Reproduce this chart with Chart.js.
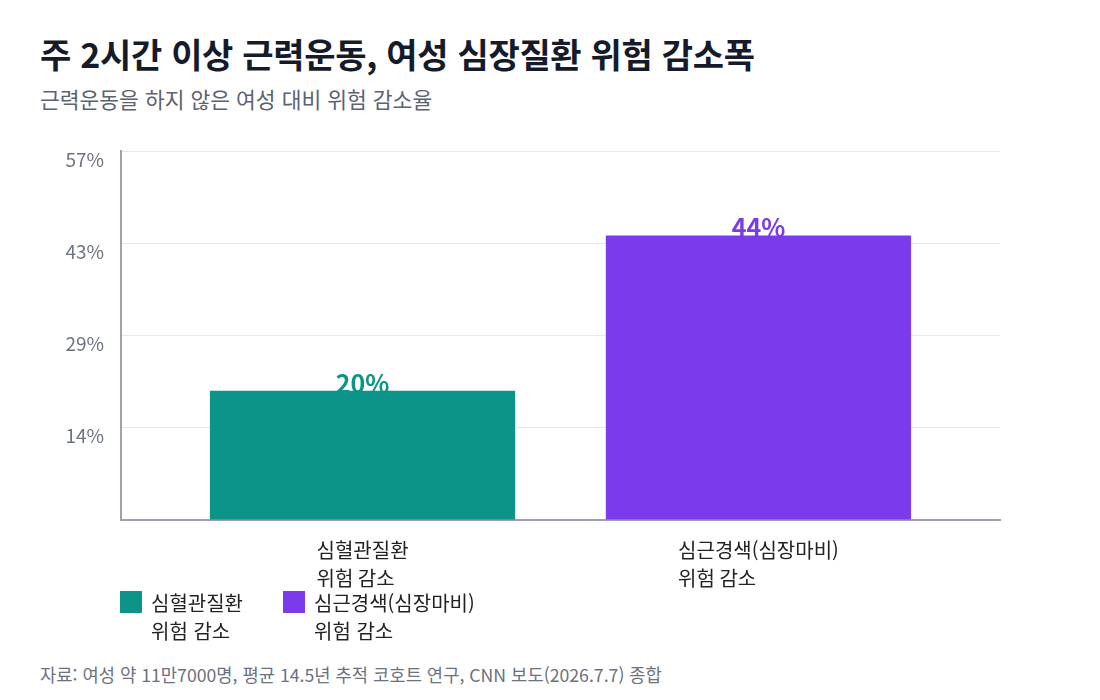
<!DOCTYPE html>
<html lang="ko">
<head>
<meta charset="utf-8">
<script src="https://cdn.jsdelivr.net/npm/chart.js@4"></script>
<style>
  html, body { margin: 0; padding: 0; background: #fff; }
  body { width: 1100px; height: 700px; position: relative; overflow: hidden;
         font-family: "Noto Sans CJK KR", "Noto Sans", sans-serif; }
  #title { position: absolute; left: 40px; top: 29px; font-size: 34px; font-weight: 700; color: #161b2b; letter-spacing: -0.3px; }
  #subtitle { position: absolute; left: 40px; top: 83px; font-size: 21.5px; color: #5b6271; }
  #wrap { position: absolute; left: 0; top: 123px; width: 1100px; height: 477px; }
  #legend { position: absolute; left: 120px; top: 589px; display: flex; gap: 40px; }
  .item { display: flex; align-items: flex-start; }
  .box { width: 22px; height: 22px; margin-top: 2px; margin-right: 9px; }
  .txt { font-size: 20px; line-height: 28px; color: #222; }
  #footer { position: absolute; left: 40px; top: 661px; font-size: 17.7px; color: #6b7280; }
</style>
</head>
<body>
<div id="title">주 2시간 이상 근력운동, 여성 심장질환 위험 감소폭</div>
<div id="subtitle">근력운동을 하지 않은 여성 대비 위험 감소율</div>
<div id="wrap"><canvas id="chart"></canvas></div>
<div id="legend"></div>
<div id="footer">자료: 여성 약 11만7000명, 평균 14.5년 추적 코호트 연구, CNN 보도(2026.7.7) 종합</div>
<script>
/* global Chart */

const categories = [
    ['심혈관질환', '위험 감소'],
    ['심근경색(심장마비)', '위험 감소']
];
const reductions = [20, 44];
const barColors = ['#0d9488', '#7c3aed'];
const axisMax = 57;
const axisStep = 14.25;

const fontFamily = '"Noto Sans CJK KR", "Noto Sans", sans-serif';

// multi-line category labels, left aligned, block centred under each bar
const categoryLabels = {
    id: 'categoryLabels',
    afterDraw(chart) {
        const ctx = chart.ctx;
        const xScale = chart.scales.x;
        const bottom = chart.chartArea.bottom;
        ctx.save();
        ctx.font = '20px ' + fontFamily;
        ctx.fillStyle = '#222';
        ctx.textBaseline = 'middle';
        ctx.textAlign = 'left';
        categories.forEach((lines, i) => {
            const cx = xScale.getPixelForValue(i);
            const w = Math.max(...lines.map(l => ctx.measureText(l).width));
            lines.forEach((line, j) => {
                ctx.fillText(line, cx - w / 2, bottom + 30 + j * 28);
            });
        });
        ctx.restore();
    }
};

// value labels sitting on top of the bars
const valueLabels = {
    id: 'valueLabels',
    afterDatasetsDraw(chart) {
        const ctx = chart.ctx;
        const meta = chart.getDatasetMeta(0);
        ctx.save();
        ctx.font = 'bold 25px ' + fontFamily;
        ctx.textAlign = 'center';
        ctx.textBaseline = 'alphabetic';
        meta.data.forEach((bar, i) => {
            ctx.fillStyle = barColors[i];
            ctx.fillText(reductions[i] + '%', bar.x, bar.y + 2);
        });
        ctx.restore();
    }
};

const buildLegend = () => {
    const legend = document.getElementById('legend');
    categories.forEach((lines, i) => {
        const item = document.createElement('div');
        item.className = 'item';
        const box = document.createElement('div');
        box.className = 'box';
        box.style.background = barColors[i];
        const txt = document.createElement('div');
        txt.className = 'txt';
        txt.innerHTML = lines.join('<br>');
        item.appendChild(box);
        item.appendChild(txt);
        legend.appendChild(item);
    });
};

buildLegend();

new Chart(document.getElementById('chart'), {
    type: 'bar',
    data: {
        datasets: [{
            data: reductions.map((v, i) => ({ x: i, y: v })),
            backgroundColor: barColors,
            categoryPercentage: 1,
            barPercentage: 0.771
        }]
    },
    options: {
        responsive: true,
        maintainAspectRatio: false,
        animation: false,
        layout: { padding: { top: 10, left: 40, right: 100, bottom: 80 } },
        plugins: {
            legend: { display: false },
            tooltip: { enabled: false }
        },
        scales: {
            x: {
                type: 'linear',
                offset: false,
                min: -0.61,
                max: 1.61,
                // one tick per category so bar width follows category spacing
                afterBuildTicks: (scale) => {
                    scale.ticks = categories.map((c, i) => ({ value: i }));
                },
                ticks: { display: false },
                grid: { display: false, drawTicks: false, offset: false },
                border: { color: '#9ca3af', width: 2 }
            },
            y: {
                min: 0,
                max: axisMax,
                afterFit: (scale) => { scale.width = 81; },
                ticks: {
                    stepSize: axisStep,
                    padding: 17,
                    labelOffset: 8,
                    color: '#6b7280',
                    font: { family: fontFamily, size: 19 },
                    callback: (v) => (v === 0 ? '' : Math.round(v) + '%')
                },
                grid: { color: '#e5e7eb', drawTicks: false },
                border: { color: '#9ca3af', width: 2 }
            }
        }
    },
    plugins: [categoryLabels, valueLabels]
});
</script>
</body>
</html>
